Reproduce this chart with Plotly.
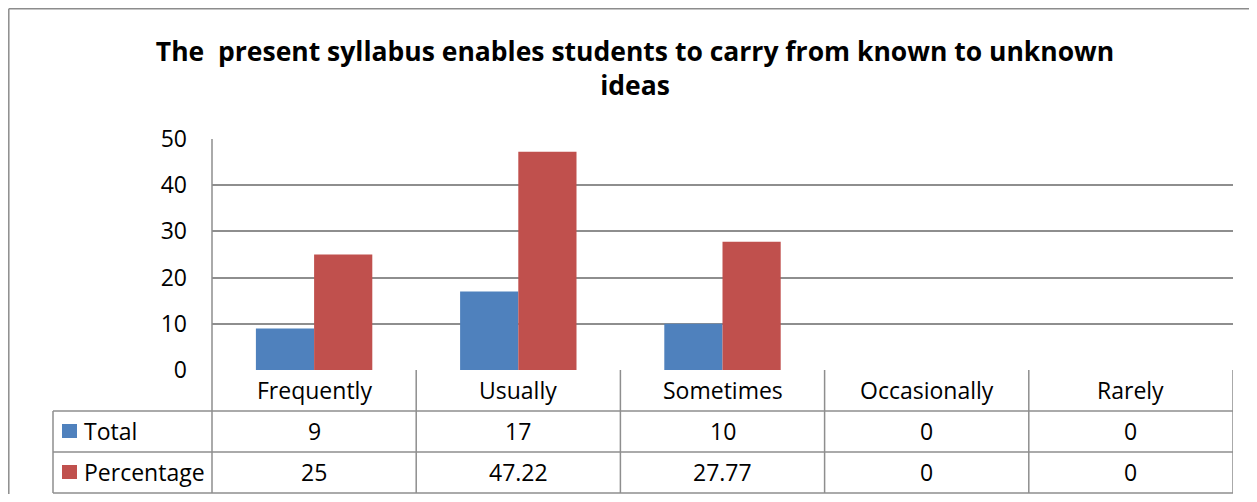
import plotly.graph_objects as go

# ---- data ----
categories = ["Frequently", "Usually", "Sometimes", "Occasionally", "Rarely"]
total = [9, 17, 10, 0, 0]
percentage = [25, 47.22, 27.77, 0, 0]
series_names = ["Total", "Percentage"]
title_text = "The  present syllabus enables students to carry from known to unknown<br>ideas"
y_ticks = [0, 10, 20, 30, 40, 50]

# ---- layout constants (screen pixels) ----
VIEW_W, VIEW_H = 1257, 502
OFF = 8  # page body margin
W, H = VIEW_W - 2 * OFF, VIEW_H - 2 * OFF
PLOT_L, PLOT_R = 212, 1233
PLOT_T, PLOT_B = 139, 370
TABLE_L = 53
ROW_LINES = [411, 452, 493]
ROW_CENTERS = [431, 472]
HEADER_CENTER = 390
COLORS = ["#4F81BD", "#C0504D"]
GRID = "#8E8E8E"
FONT = "Open Sans"


def px(x):
    return (x - OFF) / W


def py(y):
    return 1 - (y - OFF) / H


fig = go.Figure()
for name, vals, col in zip(series_names, [total, percentage], COLORS):
    fig.add_trace(go.Bar(x=categories, y=vals, name=name, marker=dict(color=col, line=dict(width=0))))

n = len(categories)
shapes = []
annotations = []

# outer chart border (cropped at right and bottom)
shapes.append(dict(type="line", xref="paper", yref="paper", x0=px(8.8), x1=px(8.8), y0=py(8.8), y1=py(520),
                   line=dict(color="#8C8C8C", width=1.5)))
shapes.append(dict(type="line", xref="paper", yref="paper", x0=px(8.8), x1=px(1280), y0=py(8.8), y1=py(8.8),
                   line=dict(color="#8C8C8C", width=1.5)))

# vertical axis line extended through table
shapes.append(dict(type="line", xref="paper", yref="paper", x0=px(PLOT_L), x1=px(PLOT_L), y0=py(PLOT_T), y1=py(ROW_LINES[-1]),
                   line=dict(color=GRID, width=1.5)))
# left table edge
shapes.append(dict(type="line", xref="paper", yref="paper", x0=px(TABLE_L), x1=px(TABLE_L), y0=py(ROW_LINES[0]), y1=py(ROW_LINES[-1]),
                   line=dict(color=GRID, width=1.5)))
# column separators
for k in range(n):
    shapes.append(dict(type="line", xref="x", yref="paper", x0=k + 0.5, x1=k + 0.5, y0=py(PLOT_B), y1=py(ROW_LINES[-1]),
                       line=dict(color=GRID, width=1.5)))
# horizontal table lines
for r in ROW_LINES:
    shapes.append(dict(type="line", xref="paper", yref="paper", x0=px(TABLE_L), x1=px(PLOT_R), y0=py(r), y1=py(r),
                       line=dict(color=GRID, width=1.5)))

TXT = dict(family=FONT, size=23, color="#000000")

# header row category labels
for i, c in enumerate(categories):
    annotations.append(dict(x=i, y=py(HEADER_CENTER), xref="x", yref="paper", text=c, showarrow=False,
                            font=TXT, xanchor="center", yanchor="middle"))

for name, vals, col, yc in zip(series_names, [total, percentage], COLORS, ROW_CENTERS):
    shapes.append(dict(type="rect", xref="paper", yref="paper", x0=px(62), x1=px(77), y0=py(yc - 7), y1=py(yc + 7),
                       fillcolor=col, line=dict(width=0)))
    annotations.append(dict(x=px(82), y=py(yc), xref="paper", yref="paper", text=name, showarrow=False,
                            font=TXT, xanchor="left", yanchor="middle"))
    for i, v in enumerate(vals):
        annotations.append(dict(x=i, y=py(yc), xref="x", yref="paper", text=f"{v:g}", showarrow=False,
                                font=TXT, xanchor="center", yanchor="middle"))

fig.update_layout(
    width=W, height=H,
    margin=dict(l=0, r=0, t=0, b=0, pad=0, autoexpand=False),
    paper_bgcolor="white", plot_bgcolor="white",
    showlegend=False,
    barmode="group", bargap=0.43, bargroupgap=0,
    title=dict(text=title_text, x=px(635), xanchor="center", y=py(61), yanchor="middle",
               font=dict(family=FONT, size=26.5, color="#000000", weight="bold"), automargin=False),
    xaxis=dict(domain=[px(PLOT_L), px(PLOT_R)], range=[-0.5, n - 0.5], showticklabels=False,
               showgrid=False, zeroline=False, showline=False, ticks="", automargin=False),
    yaxis=dict(domain=[py(PLOT_B), py(PLOT_T)], range=[0, 50], tickvals=y_ticks,
               showgrid=True, gridcolor=GRID, gridwidth=1.5, zeroline=False, showline=False,
               ticks="", ticklabelstandoff=24, automargin=False,
               tickfont=dict(family=FONT, size=23, color="#000000")),
    shapes=shapes,
    annotations=annotations,
)

fig.write_html("out.html")
